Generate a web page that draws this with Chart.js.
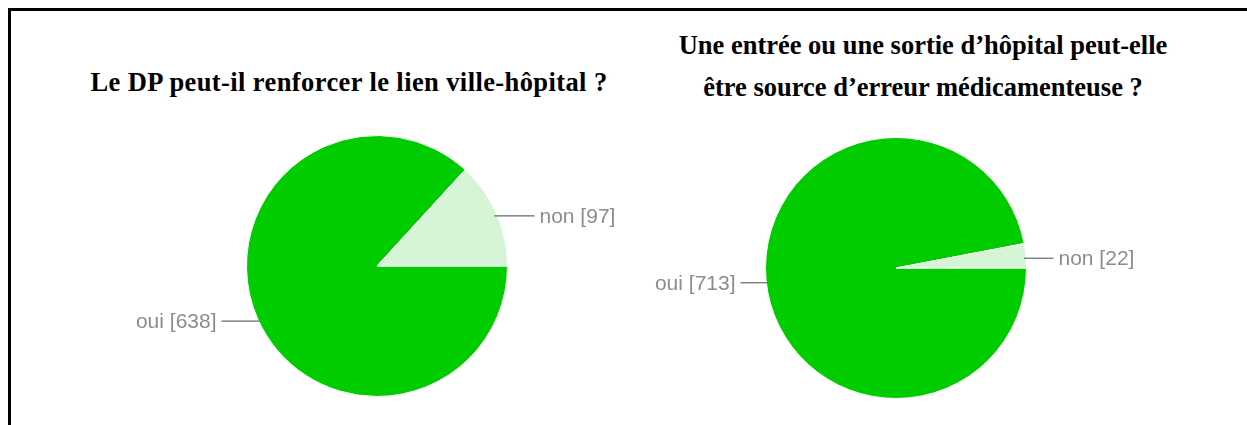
<!DOCTYPE html>
<html>
<head>
<meta charset="utf-8">
<script src="https://cdn.jsdelivr.net/npm/chart.js@4/dist/chart.umd.min.js"></script>
<style>
  html, body { margin: 0; padding: 0; background: #fff; }
  #stage { position: relative; width: 1247px; height: 425px; overflow: hidden; background: #fff; }
  #frame { position: absolute; left: 8px; top: 8px; width: 1300px; height: 500px;
           border-top: 3px solid #000; border-left: 3px solid #000; box-sizing: border-box; }
  .title { position: absolute; font-family: "Liberation Serif", "Times New Roman", serif;
           font-weight: bold; font-size: 26.5px; line-height: 42px; text-align: center; color: #000; white-space: nowrap; }
  .cv { position: absolute; top: 0; }
</style>
</head>
<body>
<div id="stage">
  <div id="frame"></div>
  <div class="title" id="t1" style="left:0px; width:698px; top:61px; letter-spacing:0.4px;"></div>
  <div class="title" id="t2" style="left:620px; width:606px; top:24px;"></div>
  <div class="cv" style="left:0px; width:630px; height:425px;"><canvas id="c1" width="630" height="425"></canvas></div>
  <div class="cv" style="left:630px; width:617px; height:425px;"><canvas id="c2" width="617" height="425"></canvas></div>
</div>
<script>
const titleQ1 = ["Le DP peut-il renforcer le lien ville-hôpital ?"];
const titleQ2 = ["Une entrée ou une sortie d’hôpital peut-elle", "être source d’erreur médicamenteuse ?"];
const categories = ["oui", "non"];
const valuesQ1 = [638, 97];
const valuesQ2 = [713, 22];
const sliceColors = ["#00CC00", "#D6F5D6"];

document.getElementById('t1').innerHTML = titleQ1.join('<br>');
document.getElementById('t2').innerHTML = titleQ2.join('<br>');

const leaderLabels = {
  id: 'leaderLabels',
  afterDatasetsDraw(chart) {
    const ctx = chart.ctx;
    const meta = chart.getDatasetMeta(0);
    const data = chart.data.datasets[0].data;
    ctx.save();
    meta.data.forEach((arc, i) => {
      const p = arc.getProps(['x', 'y', 'startAngle', 'endAngle', 'outerRadius'], true);
      const mid = (p.startAngle + p.endAngle) / 2;
      const px = p.x + Math.cos(mid) * p.outerRadius;
      const py = p.y + Math.sin(mid) * p.outerRadius + 2;
      const side = Math.cos(mid) >= 0 ? 1 : -1;
      const ex = p.x + side * (p.outerRadius + (side > 0 ? 27 : 25));
      ctx.strokeStyle = '#666666';
      ctx.lineWidth = 1.2;
      ctx.beginPath();
      ctx.moveTo(px - side * 2, py + 0.5);
      ctx.lineTo(ex, py + 0.5);
      ctx.stroke();
      ctx.fillStyle = '#8c8c8c';
      ctx.font = '21px "Liberation Sans", Arial, sans-serif';
      ctx.textBaseline = 'middle';
      ctx.textAlign = side > 0 ? 'left' : 'right';
      ctx.fillText(chart.data.labels[i] + ' [' + data[i] + ']', ex + side * 5, py + 1.5);
    });
    ctx.restore();
  }
};

function makePie(id, values, padding) {
  return new Chart(document.getElementById(id), {
    type: 'pie',
    data: {
      labels: categories,
      datasets: [{
        data: values,
        backgroundColor: sliceColors,
        borderColor: '#ffffff',
        borderWidth: 1,
        hoverOffset: 0
      }]
    },
    options: {
      responsive: false,
      animation: false,
      rotation: 90,
      layout: { padding: padding },
      plugins: {
        legend: { display: false },
        tooltip: { enabled: false },
        title: { display: false }
      }
    },
    plugins: [leaderLabels]
  });
}

makePie('c1', valuesQ1, { left: 246, right: 122, top: 135, bottom: 28 });
makePie('c2', valuesQ2, { left: 135, right: 220, top: 137, bottom: 26 });
</script>
</body>
</html>
